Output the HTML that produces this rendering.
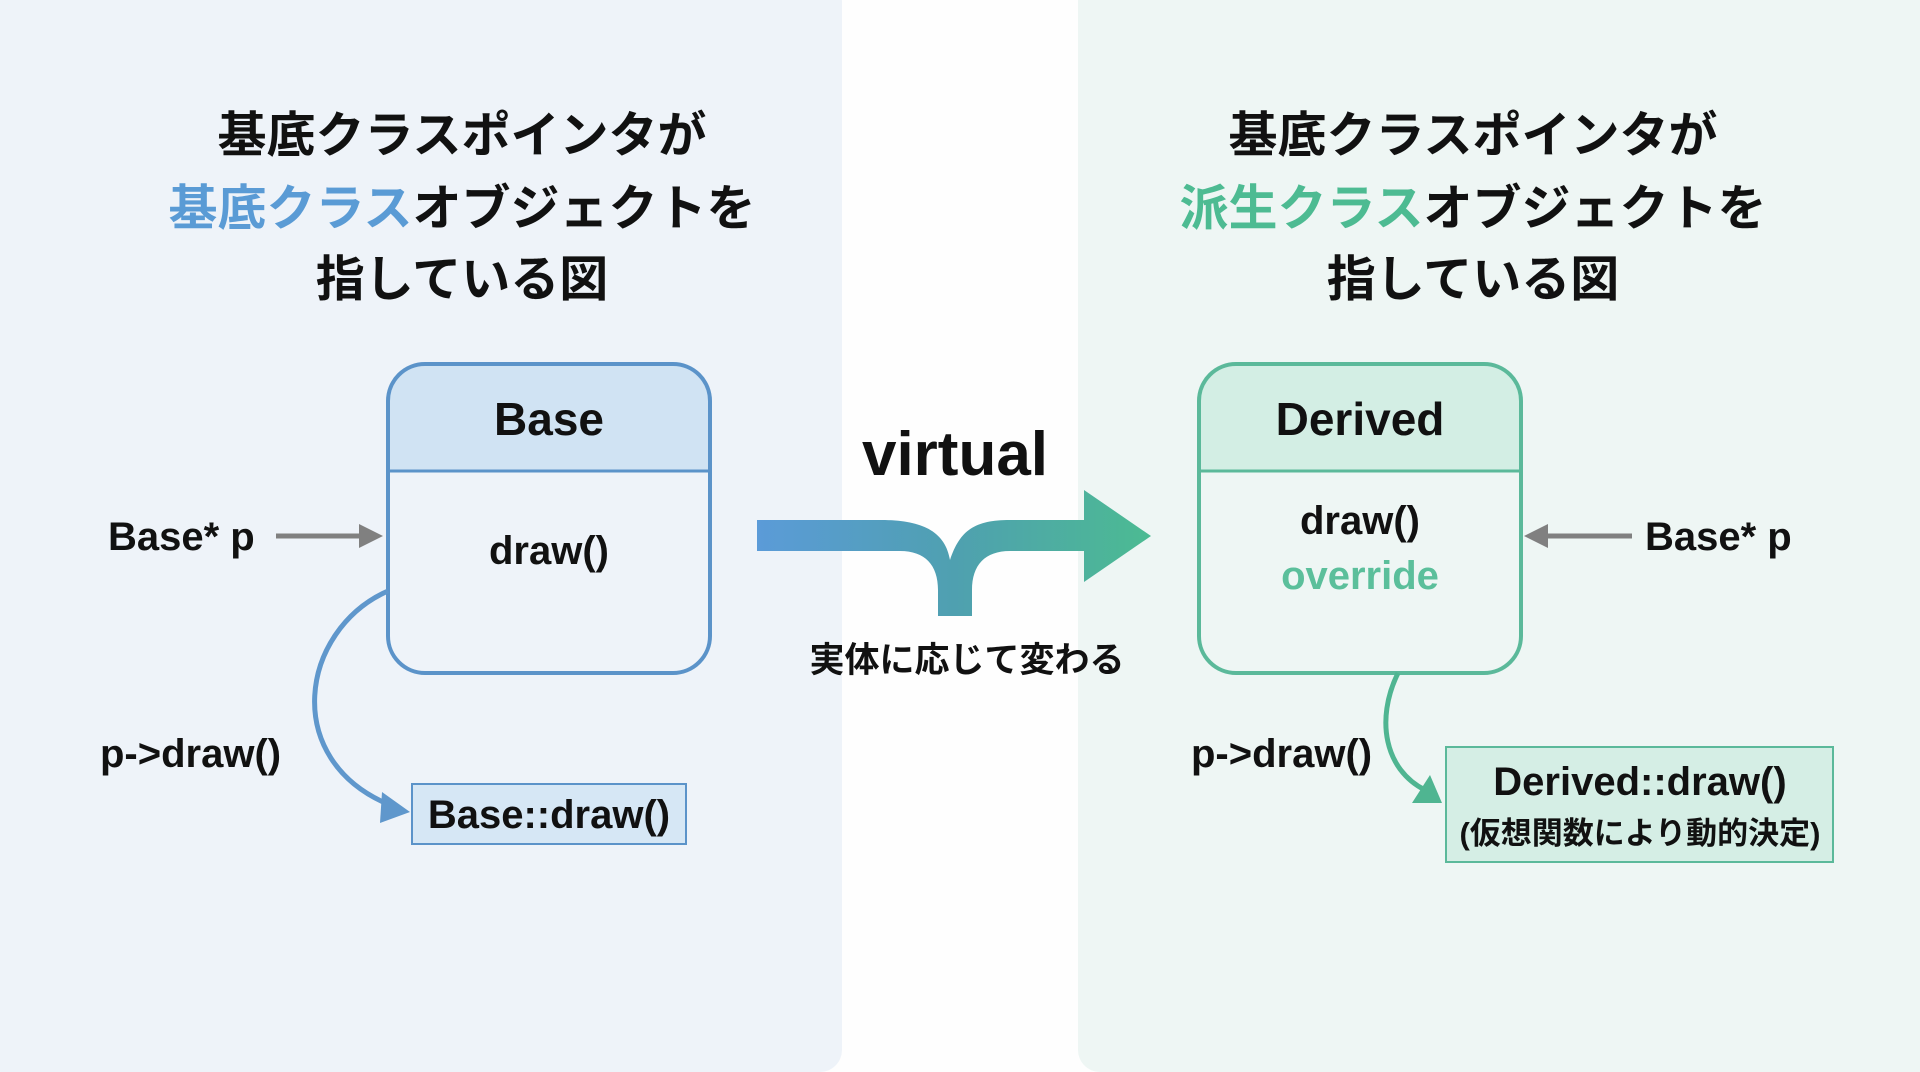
<!DOCTYPE html>
<html><head><meta charset="utf-8"><style>
html,body{margin:0;padding:0;background:#fff;}
svg{display:block;}
text{font-family:"Liberation Sans","Noto Sans CJK JP",sans-serif;font-weight:bold;fill:#111;}
</style></head><body>
<svg width="1920" height="1072" viewBox="0 0 1920 1072" xmlns="http://www.w3.org/2000/svg">
<defs>
<linearGradient id="g" x1="757" y1="0" x2="1151" y2="0" gradientUnits="userSpaceOnUse">
<stop offset="0" stop-color="#5b9bd8"/><stop offset="0.5" stop-color="#4fa0b0"/><stop offset="1" stop-color="#4cbb92"/>
</linearGradient>
</defs>
<rect width="1920" height="1072" fill="#fefefe"/>
<rect x="-20" y="-20" width="862" height="1092" rx="22" fill="#eef3f9"/>
<rect x="1078" y="-20" width="862" height="1092" rx="22" fill="#eef6f4"/>

<g font-size="49" text-anchor="middle">
<text x="462" y="152">基底クラスポインタが</text>
<text x="462" y="225"><tspan fill="#5a9bd5">基底クラス</tspan>オブジェクトを</text>
<text x="462" y="296">指している図</text>
<text x="1473" y="152">基底クラスポインタが</text>
<text x="1473" y="225"><tspan fill="#4dbb92">派生クラス</tspan>オブジェクトを</text>
<text x="1473" y="296">指している図</text>
</g>

<!-- Base box -->
<path d="M388,471 V401 a37,37 0 0 1 37,-37 H673 a37,37 0 0 1 37,37 V471 Z" fill="#d0e3f3"/>
<rect x="388" y="364" width="322" height="309" rx="37" fill="none" stroke="#5b93c9" stroke-width="4"/>
<line x1="388" y1="471" x2="710" y2="471" stroke="#5b93c9" stroke-width="3"/>
<text x="549" y="435" font-size="46" text-anchor="middle">Base</text>
<text x="549" y="564" font-size="40" text-anchor="middle">draw()</text>

<text x="108" y="550" font-size="40">Base* p</text>
<line x1="276" y1="536" x2="365" y2="536" stroke="#808080" stroke-width="5"/>
<polygon points="383,536 359,524 359,548" fill="#808080"/>

<path d="M388,591 C300,630 280,760 390,805" fill="none" stroke="#5f97cc" stroke-width="5"/>
<polygon points="410,812 382,792 380,823" fill="#5f97cc"/>
<text x="100" y="767" font-size="40">p-&gt;draw()</text>
<rect x="412" y="784" width="274" height="60" fill="#d6e7f5" stroke="#5b93c9" stroke-width="2"/>
<text x="549" y="828" font-size="40" text-anchor="middle">Base::draw()</text>

<!-- middle -->
<text x="955" y="475" font-size="62" text-anchor="middle">virtual</text>
<path d="M757,520 H880 C920,520 945,530 950,560 C960,530 975,520 1010,520 H1084 V490 L1151,536 L1084,582 V551 H1010 C985,551 972,565 972,590 V616 H938 V590 C938,565 925,551 900,551 H757 Z" fill="url(#g)"/>
<text x="967" y="672" font-size="35" text-anchor="middle">実体に応じて変わる</text>

<!-- Derived box -->
<path d="M1199,471 V401 a37,37 0 0 1 37,-37 H1484 a37,37 0 0 1 37,37 V471 Z" fill="#d3eee4"/>
<rect x="1199" y="364" width="322" height="309" rx="37" fill="none" stroke="#5bb99a" stroke-width="4"/>
<line x1="1199" y1="471" x2="1521" y2="471" stroke="#5bb99a" stroke-width="3"/>
<text x="1360" y="435" font-size="46" text-anchor="middle">Derived</text>
<text x="1360" y="534" font-size="40" text-anchor="middle">draw()</text>
<text x="1360" y="589" font-size="40" text-anchor="middle" style="fill:#5bbf9b">override</text>

<text x="1645" y="550" font-size="40">Base* p</text>
<line x1="1632" y1="536" x2="1542" y2="536" stroke="#808080" stroke-width="5"/>
<polygon points="1524,536 1548,524 1548,548" fill="#808080"/>

<path d="M1398,673 C1375,720 1385,770 1425,790" fill="none" stroke="#4fb591" stroke-width="5"/>
<polygon points="1442,803 1412,803 1430,775" fill="#4fb591"/>
<text x="1191" y="767" font-size="40">p-&gt;draw()</text>
<rect x="1446" y="747" width="387" height="115" fill="#d5eee5" stroke="#5bb99a" stroke-width="2"/>
<text x="1640" y="795" font-size="40" text-anchor="middle">Derived::draw()</text>
<text x="1640" y="844" font-size="31" text-anchor="middle">(仮想関数により動的決定)</text>
</svg>
</body></html>
